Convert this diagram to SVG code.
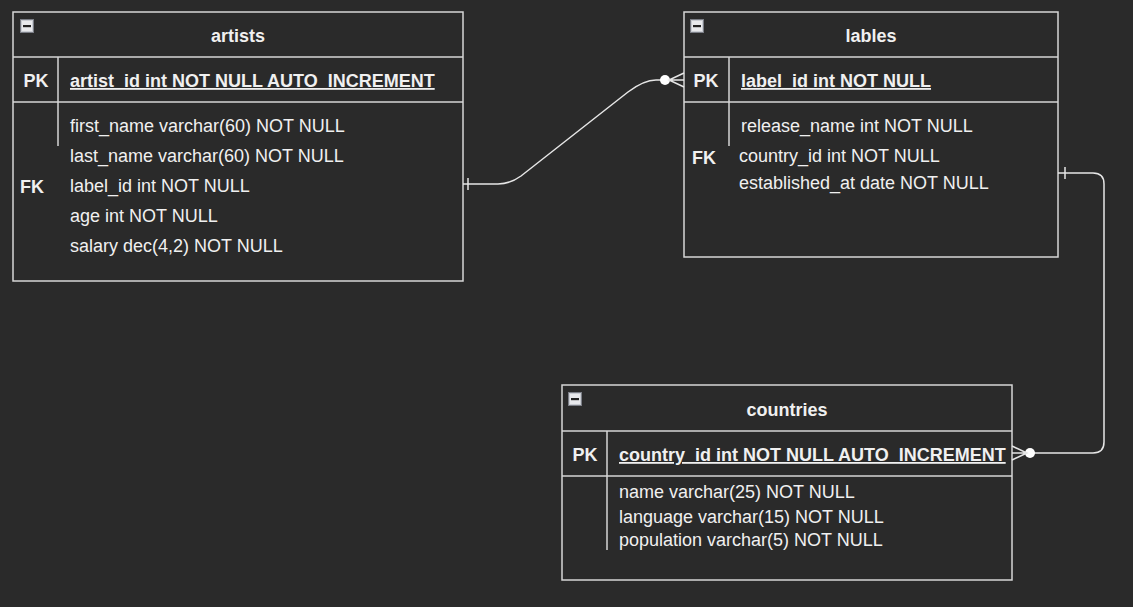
<svg xmlns="http://www.w3.org/2000/svg" width="1133" height="607" viewBox="0 0 1133 607">
<defs>
<style>
.box{fill:none;stroke:#d6d6d6;stroke-width:1.5}
.ln{stroke:#d6d6d6;stroke-width:1.5;fill:none}
.t{font-family:"Liberation Sans",Arial,sans-serif;font-size:18px;fill:#f0f0f0}
.b{font-weight:bold}
.u{text-decoration:underline}
.c{text-anchor:middle}
.con{fill:none;stroke:#e6e6e6;stroke-width:1.5}
</style>
<g id="icon">
<rect x="0.5" y="0.5" width="13" height="13" fill="#c9ccd2" stroke="#7a7d85" stroke-width="1"/>
<rect x="2" y="2" width="10" height="10" fill="#e8e9ec"/>
<rect x="3" y="6" width="8" height="2.2" fill="#222"/>
</g>
</defs>
<rect width="1133" height="607" fill="#2a2a2a"/>

<g id="artists">
<rect class="box" x="13" y="12" width="450" height="269"/>
<line class="ln" x1="13" y1="57" x2="463" y2="57"/>
<line class="ln" x1="13" y1="102" x2="463" y2="102"/>
<line class="ln" x1="58" y1="57" x2="58" y2="146"/>
<use href="#icon" x="20" y="19"/>
<text class="t b c" x="238" y="42">artists</text>
<text class="t b c" x="36" y="87">PK</text>
<text class="t b u" x="70" y="87">artist_id int NOT NULL AUTO_INCREMENT</text>
<text class="t" x="70" y="132">first_name varchar(60) NOT NULL</text>
<text class="t" x="70" y="162">last_name varchar(60) NOT NULL</text>
<text class="t b" x="20" y="193">FK</text>
<text class="t" x="70" y="192">label_id int NOT NULL</text>
<text class="t" x="70" y="222">age int NOT NULL</text>
<text class="t" x="70" y="252">salary dec(4,2) NOT NULL</text>
</g>

<g id="lables">
<rect class="box" x="684" y="12" width="374" height="245"/>
<line class="ln" x1="684" y1="57" x2="1058" y2="57"/>
<line class="ln" x1="684" y1="102" x2="1058" y2="102"/>
<line class="ln" x1="729" y1="57" x2="729" y2="146"/>
<use href="#icon" x="690" y="19"/>
<text class="t b c" x="871" y="42">lables</text>
<text class="t b c" x="706" y="87">PK</text>
<text class="t b u" x="741" y="87">label_id int NOT NULL</text>
<text class="t" x="741" y="132">release_name int NOT NULL</text>
<text class="t b" x="692" y="164">FK</text>
<text class="t" x="739" y="162">country_id int NOT NULL</text>
<text class="t" x="739" y="189">established_at date NOT NULL</text>
</g>

<g id="countries">
<rect class="box" x="562" y="385" width="450" height="195"/>
<line class="ln" x1="562" y1="431" x2="1012" y2="431"/>
<line class="ln" x1="562" y1="476" x2="1012" y2="476"/>
<line class="ln" x1="607" y1="431" x2="607" y2="550"/>
<use href="#icon" x="568" y="392"/>
<text class="t b c" x="787" y="416">countries</text>
<text class="t b c" x="585" y="461">PK</text>
<text class="t b u" x="619" y="461">country_id int NOT NULL AUTO_INCREMENT</text>
<text class="t" x="619" y="498">name varchar(25) NOT NULL</text>
<text class="t" x="619" y="523">language varchar(15) NOT NULL</text>
<text class="t" x="619" y="546">population varchar(5) NOT NULL</text>
</g>

<g id="connectors">
<path class="con" d="M463,184 L498,184 Q510,184 521,176 L628,92 Q644,80 656,80 L670,80"/>
<line class="con" x1="468" y1="178" x2="468" y2="190"/>
<circle cx="665" cy="80" r="5" fill="#ffffff"/>
<path class="con" d="M684,73 L669,80 L684,87 M669,80 L684,80"/>

<path class="con" d="M1058,173 L1093,173 Q1104,173 1104,184 L1104,442 Q1104,453 1093,453 L1030,453"/>
<line class="con" x1="1065" y1="167" x2="1065" y2="179"/>
<circle cx="1030" cy="453" r="5" fill="#ffffff"/>
<path class="con" d="M1012,446 L1027,453 L1012,460 M1027,453 L1012,453"/>
</g>
</svg>
